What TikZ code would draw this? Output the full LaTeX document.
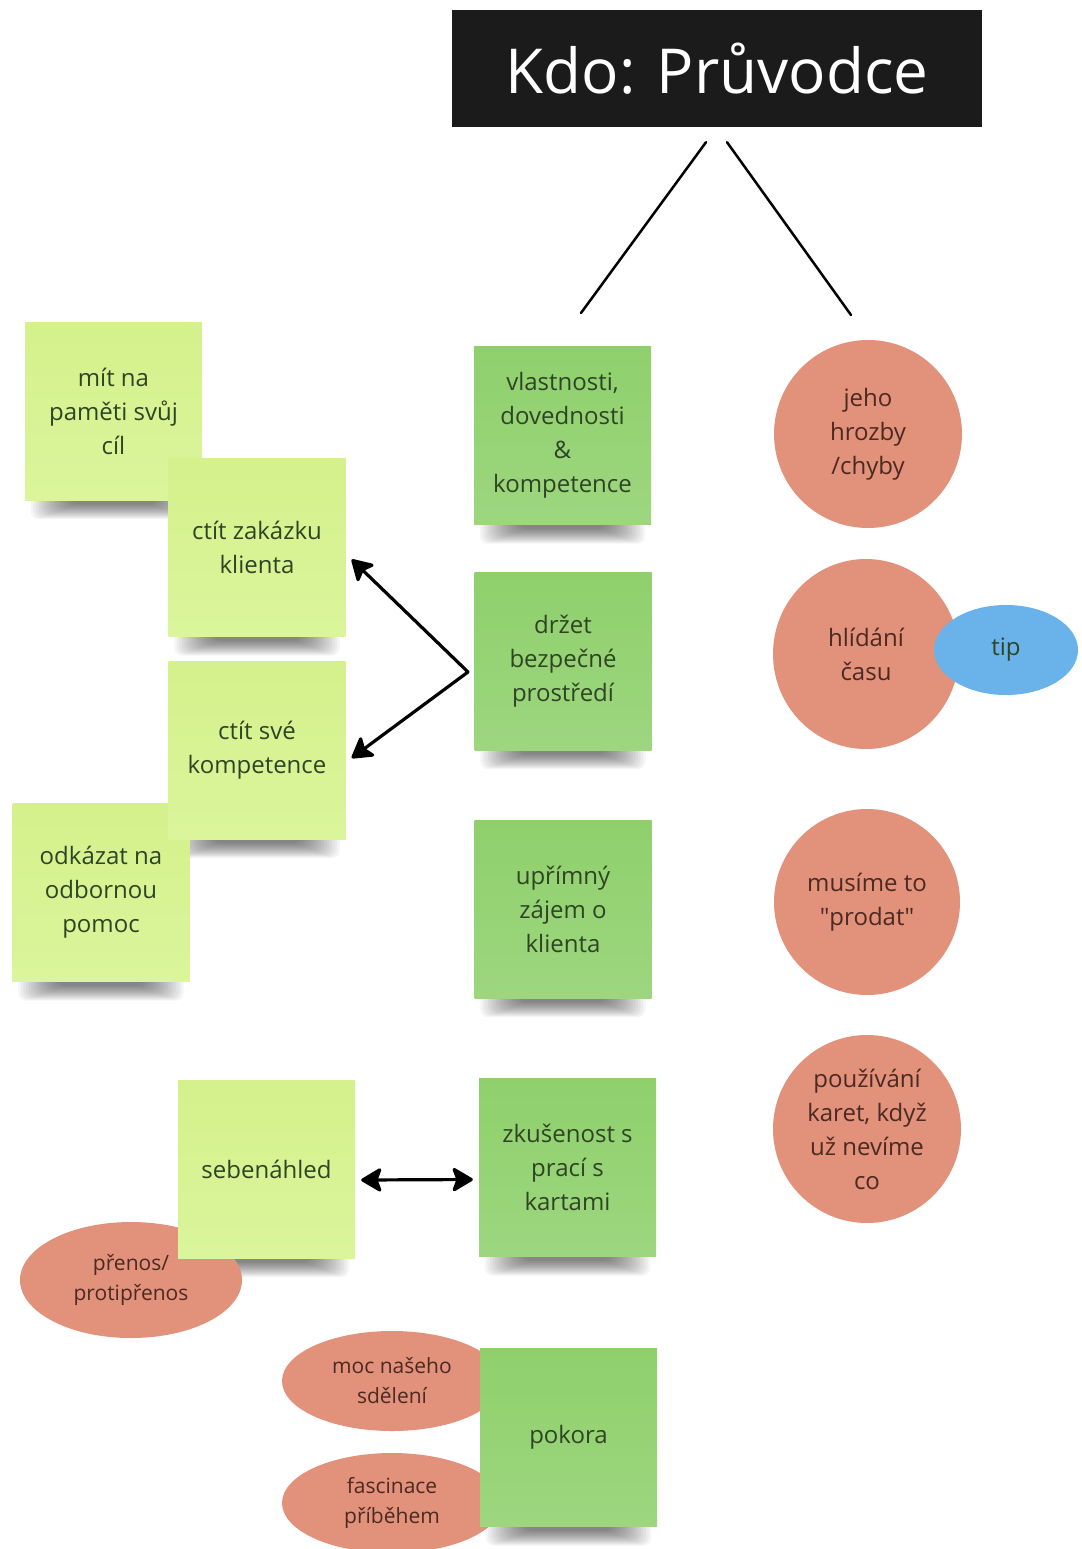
\documentclass[tikz,border=0pt]{standalone}
\usepackage{fontspec}
\setmainfont{Open Sans}
\usetikzlibrary{arrows.meta,shapes.geometric,backgrounds}

\definecolor{notelight}{HTML}{D4F18C}
\definecolor{notelightb}{HTML}{DAF59B}
\definecolor{notedark}{HTML}{8FD06C}
\definecolor{notedarkb}{HTML}{9DD67F}
\definecolor{salmon}{HTML}{E2917A}
\definecolor{tipblue}{HTML}{6AB3EA}
\definecolor{notetext}{HTML}{2F4424}
\definecolor{blobtext}{HTML}{4A2A22}
\definecolor{titlebg}{HTML}{1B1B1B}

\tikzset{
  note/.style={rectangle, minimum width=177pt, minimum height=178pt, inner sep=0pt,
    align=center, text=notetext, font=\fontsize{24}{34}\selectfont},
  lightnote/.style={note, top color=notelight, bottom color=notelightb},
  darknote/.style={note, top color=notedark, bottom color=notedarkb},
  blob/.style={ellipse, fill=salmon, inner sep=-10pt, align=center, text=blobtext,
    font=\fontsize{24}{34}\selectfont},
  smallblob/.style={blob, font=\fontsize{21}{30}\selectfont},
  stem/.style={line width=2.5pt, line cap=round},
  headtip/.tip={Stealth[length=23pt,width=27pt,inset=5pt,round]},
  arr/.style={line width=3.2pt, line cap=round, -headtip}
}

% stin pod listeckem
\newcommand\noteshadow[1]{%
  \begin{pgfonlayer}{background}
    \foreach \k in {0,...,15}
      \fill[black, opacity=0.04, rounded corners=8pt]
        ([shift={(6+2.6*\k,-8)}]#1.south west) rectangle ([shift={(-6-2.6*\k,19-\k)}]#1.south east);
  \end{pgfonlayer}}

\begin{document}
\begin{tikzpicture}[x=1pt,y=-1pt]
  \useasboundingbox (0,0) rectangle (1081,1549);
  % titulek
  \node[fill=titlebg, text=white, minimum width=530pt, minimum height=117pt,
    font=\fontsize{62}{70}\selectfont] (title) at (717,68.5) {Kdo: Průvodce};
  \coordinate (legL) at (581,313);
  \coordinate (legR) at (851,315);
  \draw[stem] ([shift={(-11,15)}]title.south) -- (legL);
  \draw[stem] ([shift={(10,15)}]title.south) -- (legR);

  % levy sloupec
  \node[lightnote] (cil) at (113.5,411) {mít na\\paměti svůj\\cíl};
  \noteshadow{cil}
  \node[lightnote] (zakazka) at (257,547.5) {ctít zakázku\\klienta};
  \noteshadow{zakazka}
  \node[lightnote] (odkazat) at (101,892.5) {odkázat na\\odbornou\\pomoc};
  \noteshadow{odkazat}
  \node[lightnote] (kompetence) at (257,750) {ctít své\\kompetence};
  \noteshadow{kompetence}

  % stredni sloupec
  \node[darknote] (vlastnosti) at (562.5,435.5) {vlastnosti,\\dovednosti\\\&\\kompetence};
  \noteshadow{vlastnosti}
  \node[darknote] (bezpeci) at (563,661) {držet\\bezpečné\\prostředí};
  \noteshadow{bezpeci}
  \node[darknote] (zajem) at (563,909) {upřímný\\zájem o\\klienta};
  \noteshadow{zajem}

  % dole
  \node[smallblob, minimum width=222pt, minimum height=116pt] (prenos) at (131,1280) {přenos/\\protipřenos};
  \node[lightnote] (sebenahled) at (266.5,1169) {sebenáhled};
  \noteshadow{sebenahled}
  \node[darknote] (karty) at (567.5,1167.5) {zkušenost s\\prací s\\kartami};
  \noteshadow{karty}
  \node[smallblob, minimum width=220pt, minimum height=100pt] (moc) at (392,1381) {moc našeho\\sdělení};
  \node[smallblob, minimum width=220pt, minimum height=100pt] (pribeh) at (392,1503) {fascinace\\příběhem};
  \node[darknote] (pokora) at (568.5,1437.5) {pokora};
  \noteshadow{pokora}

  % pravy sloupec
  \node[blob, minimum width=188pt, minimum height=188pt] (hrozby) at (868,434) {jeho\\hrozby\\/chyby};
  \node[blob, minimum width=186pt, minimum height=190pt] (cas) at (866,654) {hlídání\\času};
  \node[blob, fill=tipblue, text=notetext, minimum width=144pt, minimum height=90pt] (tip) at (1006,650) {tip};
  \node[blob, minimum width=186pt, minimum height=186pt] (prodat) at (867,902) {musíme to\\\textquotedbl prodat\textquotedbl};
  \node[blob, minimum width=188pt, minimum height=188pt] (pouzivani) at (867,1129) {používání\\karet, když\\už nevíme\\co};

  % sipky
  \coordinate (fork) at (468,672);
  \draw[arr] (fork) -- ([shift={(6,12)}]zakazka.east);
  \draw[arr] (fork) -- ([shift={(6,8)}]kompetence.east);
  \draw[arr, headtip-headtip]
    ([shift={(6,11)}]sebenahled.east) -- ([shift={(-6,12)}]karty.west);
\end{tikzpicture}
\end{document}
